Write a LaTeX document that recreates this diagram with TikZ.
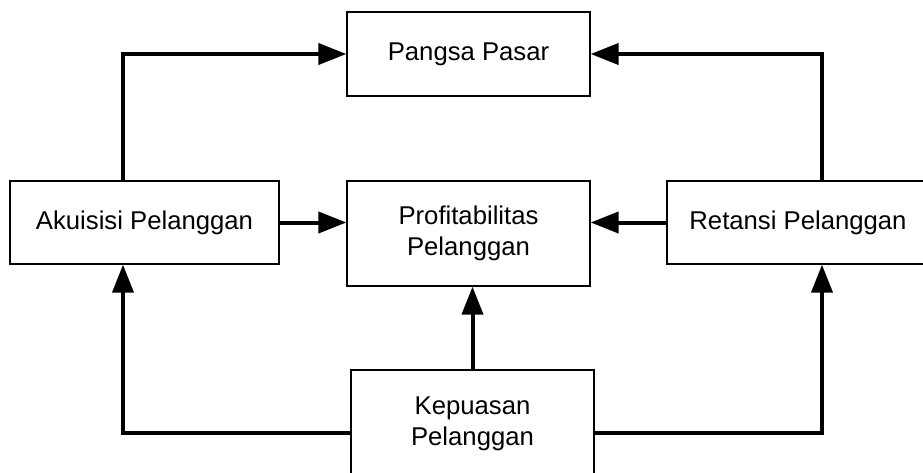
\documentclass[tikz,border=0pt]{standalone}
\usepackage{fontspec}
\setmainfont{Liberation Sans}
\usetikzlibrary{arrows.meta,calc}
\begin{document}
\begin{tikzpicture}[x=1pt,y=-1pt,
  box/.style={draw,line width=1.3pt,inner sep=0pt,align=center,font=\fontsize{25.7}{31}\selectfont},
  arr/.style={line width=4pt,-{Triangle[length=28pt,width=21pt]}}]
\useasboundingbox (0,0) rectangle (923,473);
\fill[white] (0,0) rectangle (923,473);
\node[box,minimum width=243pt,minimum height=84pt] (pangsa) at (468.5,54) {Pangsa Pasar};
\node[box,minimum width=269pt,minimum height=83pt] (akuisisi) at (144.5,222.5) {Akuisisi Pelanggan};
\node[box,minimum width=243pt,minimum height=105pt] (profit) at (468.5,233.5) {Profitabilitas\\Pelanggan};
\node[box,minimum width=262pt,minimum height=83pt] (retansi) at (798,222.5) {Retansi Pelanggan};
\node[box,minimum width=243pt,minimum height=108pt] (kepuasan) at (472.5,424) {Kepuasan\\Pelanggan};
\coordinate (xa) at (123,0);
\coordinate (xr) at (822,0);
\coordinate (kl) at ($(kepuasan.west)+(0,9)$);
\coordinate (kr) at ($(kepuasan.east)+(0,9)$);
\draw[arr] (akuisisi.north -| xa) |- (pangsa.west);
\draw[arr] (retansi.north -| xr) |- (pangsa.east);
\draw[arr] (akuisisi.east) -- (akuisisi.east -| profit.west);
\draw[arr] (retansi.west) -- (retansi.west -| profit.east);
\draw[arr] (kepuasan.north) -- (kepuasan.north |- profit.south);
\draw[arr] (kl) -| (akuisisi.south -| xa);
\draw[arr] (kr) -| (retansi.south -| xr);
\end{tikzpicture}
\end{document}
